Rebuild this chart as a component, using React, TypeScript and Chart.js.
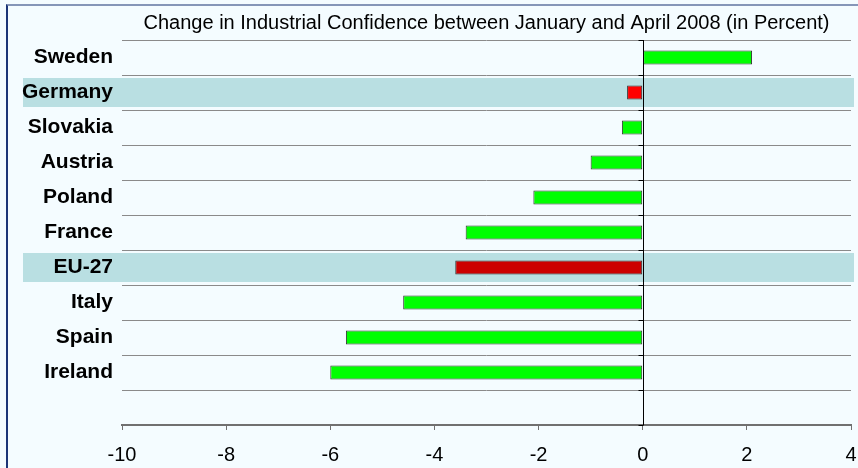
import React, { useEffect, useRef } from "react";
import { Chart, registerables } from "chart.js";

Chart.register(...registerables);

const categories = ["Sweden", "Germany", "Slovakia", "Austria", "Poland", "France", "EU-27", "Italy", "Spain", "Ireland", ""];
const values: (number | null)[] = [2.1, -0.3, -0.4, -1.0, -2.1, -3.4, -3.6, -4.6, -5.7, -6.0, null];
const barColors = ["#00ff00", "#ff0000", "#00ff00", "#00ff00", "#00ff00", "#00ff00", "#cc0000", "#00ff00", "#00ff00", "#00ff00", "#00ff00"];
const highlighted = ["Germany", "EU-27"];
const xMin = -10;
const xMax = 4;
const xStep = 2;
const titleText = "Change in Industrial Confidence between January and April 2008 (in Percent)";

const FONT = "'Liberation Sans', Arial, Helvetica, sans-serif";

const bandPlugin = {
  id: "bands",
  beforeDraw(chart: any) {
    const { ctx, chartArea, scales } = chart;
    const y = scales.y;
    ctx.save();
    ctx.fillStyle = "#b9dfe2";
    highlighted.forEach((name) => {
      const i = categories.indexOf(name);
      if (i < 0) return;
      const c = y.getPixelForValue(i);
      const half = (y.getPixelForValue(1) - y.getPixelForValue(0)) / 2;
      ctx.fillRect(23, c - half + 3, chartArea.right + 3 - 23, half * 2 - 6);
    });
    ctx.restore();
  },
};

const zeroLinePlugin = {
  id: "zeroLine",
  afterDatasetsDraw(chart: any) {
    const { ctx, chartArea, scales } = chart;
    const x0 = Math.round(scales.x.getPixelForValue(0)) + 0.5;
    const y = scales.y;
    const half = (y.getPixelForValue(1) - y.getPixelForValue(0)) / 2;
    ctx.save();
    ctx.strokeStyle = "#000000";
    ctx.lineWidth = 1;
    ctx.beginPath();
    ctx.moveTo(x0, chartArea.top);
    ctx.lineTo(x0, chartArea.bottom);
    for (let i = 0; i <= categories.length; i++) {
      const yy = Math.round(y.getPixelForValue(i) - half) + 0.5;
      ctx.moveTo(x0 - 5, yy);
      ctx.lineTo(x0, yy);
    }
    ctx.stroke();
    ctx.restore();
  },
};

export default function App() {
  const ref = useRef<HTMLCanvasElement>(null);
  useEffect(() => {
    if (!ref.current) return;
    const chart = new Chart(ref.current, {
      type: "bar",
      data: {
        labels: categories,
        datasets: [
          {
            data: values as any,
            backgroundColor: barColors,
            borderColor: "#333333",
            borderWidth: 1,
            borderSkipped: false,
            categoryPercentage: 1,
            barPercentage: 0.4,
          },
        ],
      },
      options: {
        indexAxis: "y",
        animation: false,
        responsive: false,
        maintainAspectRatio: false,
        layout: { padding: { left: 22, right: 7, top: 0, bottom: 0 } },
        plugins: {
          legend: { display: false },
          tooltip: { enabled: false },
          title: {
            display: true,
            text: titleText,
            fullSize: false,
            color: "#000000",
            font: { family: FONT, size: 20, weight: "normal" },
            padding: { top: 11, bottom: 5 },
          },
        },
        scales: {
          x: {
            type: "linear",
            min: xMin,
            max: xMax,
            afterFit: (scale: any) => {
              scale.height = 43;
              scale.paddingRight = 0;
              scale.paddingLeft = 0;
            },
            ticks: {
              stepSize: xStep,
              color: "#000000",
              font: { family: FONT, size: 20 },
              padding: 13,
            },
            grid: {
              display: true,
              drawOnChartArea: false,
              drawTicks: true,
              tickLength: 5,
              color: "#707070",
              lineWidth: 1,
            },
            border: { display: true, color: "#707070", width: 2 },
          },
          y: {
            type: "category",
            offset: true,
            afterFit: (scale: any) => {
              scale.width = 100;
            },
            ticks: {
              color: "#000000",
              font: { family: FONT, size: 21, weight: "bold" },
              padding: 9,
            },
            grid: {
              display: true,
              offset: true,
              drawTicks: false,
              color: "#8a8a8a",
              lineWidth: 1,
            },
            border: { display: false },
          },
        },
      },
      plugins: [bandPlugin, zeroLinePlugin],
    });
    return () => chart.destroy();
  }, []);

  return (
    <div style={{ position: "fixed", left: 0, top: 0, width: 858, height: 468, overflow: "hidden", background: "#f4fcff" }}>
      <div
        style={{
          position: "absolute",
          left: 6,
          top: 4,
          width: 900,
          height: 520,
          borderLeft: "2px solid #1b3577",
          borderTop: "2px solid #8596b8",
        }}
      />
      <canvas ref={ref} width={858} height={468} style={{ position: "absolute", left: 0, top: 0, width: 858, height: 468 }} />
    </div>
  );
}
